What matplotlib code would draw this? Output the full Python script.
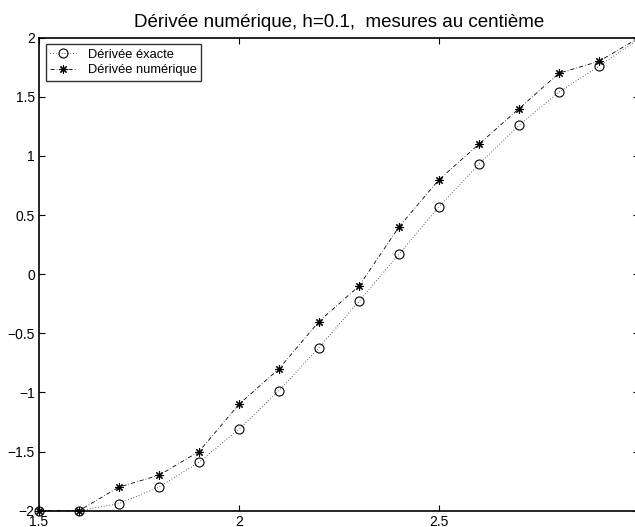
import numpy as np
import matplotlib
matplotlib.use('Agg')
import matplotlib.pyplot as plt

# points x = 1.5:0.1:3
x = [1.5, 1.6, 1.7, 1.8, 1.9, 2.0, 2.1, 2.2, 2.3, 2.4, 2.5, 2.6, 2.7, 2.8, 2.9, 3.0]
exacte = [-2.0, -2.0, -1.94, -1.80, -1.59, -1.31, -0.985, -0.62, -0.23, 0.17,
          0.57, 0.93, 1.26, 1.54, 1.76, 1.99]
numerique = [-2.0, -2.0, -1.8, -1.7, -1.5, -1.1, -0.8, -0.4, -0.1, 0.4,
             0.8, 1.1, 1.4, 1.7, 1.8, 2.0]

xticks = [1.5, 2.0, 2.5, 3.0]
xticklabels = ['1.5', '2', '2.5', '3']
yticks = [-2, -1.5, -1, -0.5, 0, 0.5, 1, 1.5, 2]
yticklabels = ['\u22122', '\u22121.5', '\u22121', '\u22120.5', '0', '0.5', '1', '1.5', '2']

plt.rcParams['font.family'] = ['Liberation Sans', 'DejaVu Sans']

W, H = 635, 527
fig = plt.figure(figsize=(W / 100, H / 100), dpi=100)
# axes box runs a little past the right edge (x=3 is cropped in the original)
ax = fig.add_axes([39 / W, 16.3 / H, 600 / W, 473 / H])

ax.plot(x, exacte, color='black', lw=0.6, dashes=[0.8, 2.6],
        marker='o', ms=6.5, mfc='none', mec='black', mew=0.8,
        clip_on=False, label='Dérivée éxacte')
ax.plot(x, numerique, color='black', lw=0.6, dashes=[5, 2.5, 0.8, 2.5],
        marker=(8, 2, 0), ms=6, mec='black', mew=0.8,
        clip_on=False, label='Dérivée numérique')

ax.set_xlim(1.5, 3.0)
ax.set_ylim(-2, 2)
ax.set_xticks(xticks, xticklabels)
ax.set_yticks(yticks, yticklabels)
ax.tick_params(direction='in', length=4, width=0.8, labelsize=10,
               top=True, right=True, pad=3)
for s in ax.spines.values():
    s.set_linewidth(1.2)

ax.set_title('Dérivée numérique, h=0.1,  mesures au centième', fontsize=13.5, pad=7.5)

leg = ax.legend(loc='upper left', bbox_to_anchor=(6.7 / 600, 1 - 6.6 / 473),
                fontsize=9.3, frameon=True, fancybox=False, borderaxespad=0,
                handlelength=2.0, handletextpad=0.9, borderpad=0.35,
                labelspacing=0.25)
leg.get_frame().set_edgecolor('black')
leg.get_frame().set_linewidth(1.0)

fig.savefig('out.png', dpi=100)
